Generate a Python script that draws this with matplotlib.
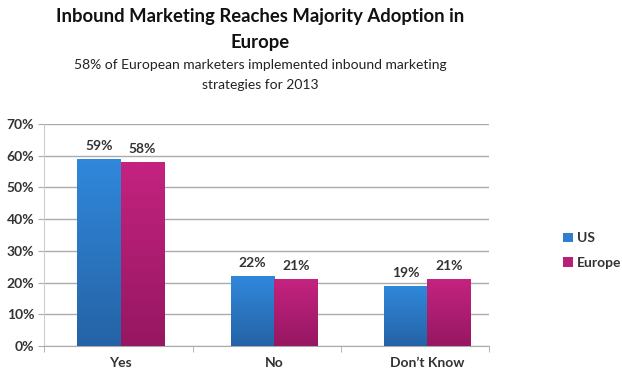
import numpy as np
import matplotlib
matplotlib.use("Agg")
import matplotlib.pyplot as plt
from matplotlib.colors import LinearSegmentedColormap

categories = ["Yes", "No", "Don\u2019t Know"]
us = [59, 22, 19]
europe = [58, 21, 21]
series_names = ["US", "Europe"]
yticks = [0, 10, 20, 30, 40, 50, 60, 70]

plt.rcParams['font.family'] = ['Lato', 'DejaVu Sans']

fig = plt.figure(figsize=(6.22, 3.76), dpi=100)
ax = fig.add_axes([0.0707, 0.080, 0.715, 0.590])

x = np.arange(len(categories))
w = 0.283
b1 = ax.bar(x - w / 2, us, w, color='#2e7fd0', label=series_names[0], zorder=3)
b2 = ax.bar(x + w / 2, europe, w, color='#b81f78', label=series_names[1], zorder=3)

# gradient fill for the bars
grad = np.linspace(1, 0, 100).reshape(-1, 1)
cmaps = [LinearSegmentedColormap.from_list('b', ['#2563a6', '#3088db']),
         LinearSegmentedColormap.from_list('m', ['#961762', '#c4237f'])]
for bars, cm in zip([b1, b2], cmaps):
    for p in bars:
        x0, y0 = p.get_x(), p.get_y()
        im = ax.imshow(grad, cmap=cm, aspect='auto', zorder=3.5,
                       extent=[x0, x0 + p.get_width(), y0, y0 + p.get_height()],
                       vmin=0, vmax=1, origin='upper')
        im.set_clip_path(p)

for bars, vals in zip([b1, b2], [us, europe]):
    for p, v in zip(bars, vals):
        ax.text(p.get_x() + p.get_width() / 2, v + 2.2, f"{v}%", ha='center', va='bottom',
                fontsize=10, fontweight='bold', color='#333333')

ax.set_xlim(-0.5, 2.4)
ax.set_ylim(0, 70)
ax.set_yticks(yticks)
ax.set_yticklabels([f"{t}%" for t in yticks], fontsize=10, fontweight='bold', color='#333333')
ax.set_xticks(x)
ax.set_xticklabels(categories, fontsize=10, fontweight='bold', color='#333333')
ax.tick_params(axis='x', length=0, pad=8)
ax.tick_params(axis='y', length=4, color='#aaaaaa', pad=3)
ax.set_xticks([-0.5, 0.47, 1.44, 2.4], minor=True)
ax.tick_params(axis='x', which='minor', length=4, color='#aaaaaa')
ax.grid(axis='y', color='#aaaaaa', linewidth=1, zorder=0)
for s in ['top', 'right']:
    ax.spines[s].set_visible(False)
ax.spines['left'].set_color('#cccccc')
ax.spines['bottom'].set_color('#aaaaaa')

leg = ax.legend(loc='center left', bbox_to_anchor=(1.14, 0.43), frameon=False,
                handlelength=0.7, handleheight=0.7, handletextpad=0.3, labelspacing=0.9,
                prop={'size': 10, 'weight': 'bold'})
for t in leg.get_texts():
    t.set_color('#333333')

cx = 260 / 622
fig.text(cx, 0.955, "Inbound Marketing Reaches Majority Adoption in", ha='center', va='center',
         fontsize=13.3, fontweight='bold', color='#111111')
fig.text(cx, 0.888, "Europe", ha='center', va='center', fontsize=13.3, fontweight='bold', color='#111111')
fig.text(cx, 0.826, "58% of European marketers implemented inbound marketing", ha='center', va='center',
         fontsize=10, color='#222222')
fig.text(cx, 0.775, "strategies for 2013", ha='center', va='center', fontsize=10, color='#222222')

fig.savefig('out.png', dpi=100)
